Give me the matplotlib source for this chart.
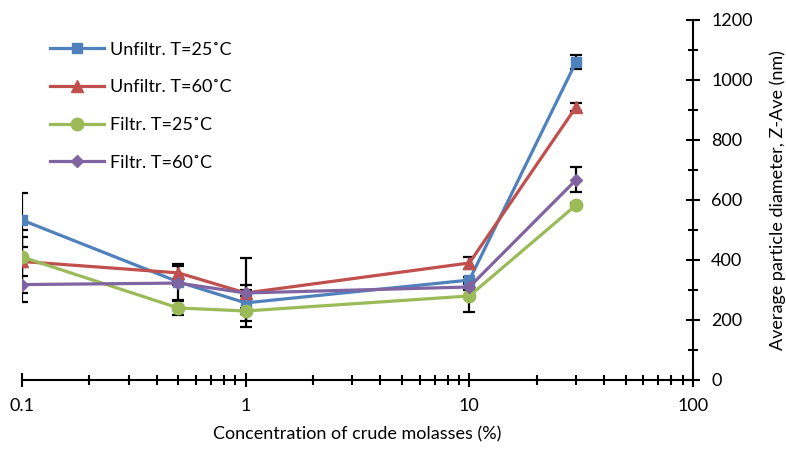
import matplotlib.pyplot as plt
from matplotlib.ticker import MultipleLocator, LogLocator, FixedLocator

plt.rcParams['font.family'] = ['Lato', 'DejaVu Sans']

conc = [0.1, 0.5, 1, 10, 30]

unf25 = [533, 327, 257, 333, 1060]
unf60 = [395, 357, 290, 390, 910]
fil25 = [410, 240, 230, 280, 583]
fil60 = [318, 323, 290, 310, 667]

unf25_err = [90, 10, 60, 10, 22]
unf60_err = [105, 30, 10, 20, 12]
fil25_err = [65, 23, 10, 53, 8]
fil60_err = [58, 57, 115, 10, 42]

labels = ['Unfiltr. T=25˚C', 'Unfiltr. T=60˚C', 'Filtr. T=25˚C', 'Filtr. T=60˚C']
colors = ['#4F81BD', '#C0504D', '#9BBB59', '#8064A2']
markers = ['s', '^', 'o', 'D']
sizes = [7, 8, 9, 6]

fig = plt.figure(figsize=(7.86, 4.5), dpi=100)
ax = fig.add_axes([0.028, 0.1556, 0.8537, 0.8])

series = [unf25, unf60, fil25, fil60]
errs = [unf25_err, unf60_err, fil25_err, fil60_err]

for y, e in zip(series, errs):
    ax.errorbar(conc, y, yerr=e, fmt='none', ecolor='black', elinewidth=1.6,
                capsize=4, capthick=1.6, zorder=2)

for y, lab, c, m, s in zip(series, labels, colors, markers, sizes):
    ax.plot(conc, y, color=c, lw=2.3, marker=m, markersize=s, label=lab, zorder=3)

ax.set_xscale('log')
ax.set_xlim(0.1, 100)
ax.set_ylim(0, 1200)

ax.spines['left'].set_visible(False)
ax.spines['top'].set_visible(False)
ax.spines['bottom'].set_linewidth(1.5)
ax.spines['right'].set_linewidth(1.5)

ax.yaxis.tick_right()
ax.yaxis.set_label_position('right')
ax.yaxis.set_major_locator(MultipleLocator(200))
ax.yaxis.set_minor_locator(MultipleLocator(100))
ax.xaxis.set_major_locator(FixedLocator([0.1, 1, 10, 100]))
ax.xaxis.set_minor_locator(LogLocator(base=10, subs=range(2, 10)))
ax.set_xticklabels(['0.1', '1', '10', '100'])

ax.tick_params(which='both', direction='inout', width=1.5, labelsize=13, color='black')
ax.tick_params(which='major', length=10)
ax.tick_params(which='minor', length=7)
ax.tick_params(axis='x', pad=8)
ax.tick_params(axis='y', pad=8)

ax.set_xlabel('Concentration of crude molasses (%)', fontsize=13, labelpad=9)
ax.set_ylabel('Average particle diameter, Z-Ave (nm)', fontsize=13, labelpad=12)

ax.legend(loc='upper left', bbox_to_anchor=(0.015, 0.99), frameon=False, fontsize=13,
          handlelength=3.0, labelspacing=1.2, handletextpad=0.3, borderaxespad=0.6)

fig.savefig('out.png', dpi=100)
